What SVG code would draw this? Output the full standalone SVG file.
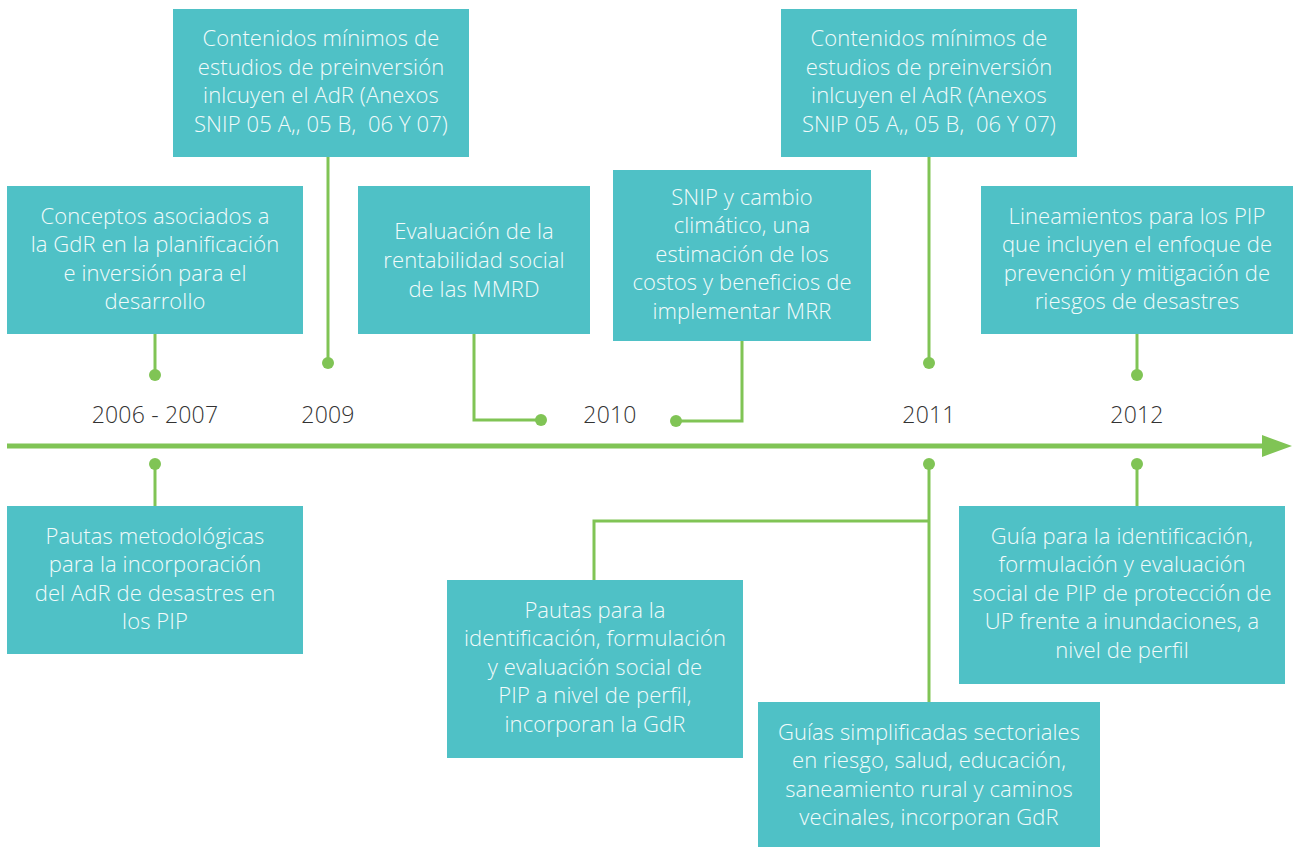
<svg xmlns="http://www.w3.org/2000/svg" width="1293" height="847" viewBox="0 0 1293 847">
<style>
.box{fill:#4fc1c6}
.t{font-family:"Open Sans","Liberation Sans",sans-serif;font-weight:300;font-size:22px;letter-spacing:0.1px;fill:#f2fbfb;text-anchor:middle}
.y{font-family:"Open Sans","Liberation Sans",sans-serif;font-weight:300;font-size:23px;letter-spacing:0.2px;fill:#333333;text-anchor:middle}
.c{fill:none;stroke:#80c455;stroke-width:3}
.d{fill:#80c455}
</style>
<rect width="1293" height="847" fill="#ffffff"/>
<g id="connectors">
<line x1="7" y1="446" x2="1264" y2="446" stroke="#80c455" stroke-width="5"/>
<polygon points="1262,435 1292,446 1262,457" class="d"/>
<polyline class="c" points="155,334 155,375"/>
<circle class="d" cx="155" cy="375" r="6"/>
<polyline class="c" points="155,464 155,506"/>
<circle class="d" cx="155" cy="464" r="6"/>
<polyline class="c" points="328,157 328,363"/>
<circle class="d" cx="328" cy="363" r="6"/>
<polyline class="c" points="474,334 474,420 541,420"/>
<circle class="d" cx="541" cy="420" r="6"/>
<polyline class="c" points="676,421 742,421 742,341"/>
<circle class="d" cx="676" cy="421" r="6"/>
<polyline class="c" points="929,157 929,363"/>
<circle class="d" cx="929" cy="363" r="6"/>
<polyline class="c" points="1137,334 1137,375"/>
<circle class="d" cx="1137" cy="375" r="6"/>
<polyline class="c" points="929,464 929,702"/>
<polyline class="c" points="929,521 594,521 594,580"/>
<circle class="d" cx="929" cy="464" r="6"/>
<polyline class="c" points="1137,464 1137,506"/>
<circle class="d" cx="1137" cy="464" r="6"/>
</g>
<g id="years">
<text class="y" x="155" y="423">2006 - 2007</text>
<text class="y" x="328" y="423">2009</text>
<text class="y" x="610" y="423">2010</text>
<text class="y" x="929" y="423">2011</text>
<text class="y" x="1137" y="423">2012</text>
</g>
<g id="n1">
<rect class="box" x="7" y="186" width="296" height="148"/>
<text class="t" x="155" y="224">Conceptos asociados a</text>
<text class="t" x="155" y="252">la GdR en la planificación</text>
<text class="t" x="155" y="281">e inversión para el</text>
<text class="t" x="155" y="309">desarrollo</text>
</g>
<g id="n2">
<rect class="box" x="173" y="9" width="296" height="148"/>
<text class="t" x="321" y="46">Contenidos mínimos de</text>
<text class="t" x="321" y="75">estudios de preinversión</text>
<text class="t" x="321" y="103">inlcuyen el AdR (Anexos</text>
<text class="t" x="321" y="132" xml:space="preserve">SNIP 05 A,, 05 B,  06 Y 07)</text>
</g>
<g id="n3">
<rect class="box" x="358" y="186" width="232" height="148"/>
<text class="t" x="474" y="239">Evaluación de la</text>
<text class="t" x="474" y="268">rentabilidad social</text>
<text class="t" x="474" y="297">de las MMRD</text>
</g>
<g id="n4">
<rect class="box" x="613" y="170" width="258" height="171"/>
<text class="t" x="742" y="205">SNIP y cambio</text>
<text class="t" x="742" y="233">climático, una</text>
<text class="t" x="742" y="262">estimación de los</text>
<text class="t" x="742" y="290">costos y beneficios de</text>
<text class="t" x="742" y="319">implementar MRR</text>
</g>
<g id="n5">
<rect class="box" x="781" y="9" width="296" height="148"/>
<text class="t" x="929" y="46">Contenidos mínimos de</text>
<text class="t" x="929" y="75">estudios de preinversión</text>
<text class="t" x="929" y="103">inlcuyen el AdR (Anexos</text>
<text class="t" x="929" y="132" xml:space="preserve">SNIP 05 A,, 05 B,  06 Y 07)</text>
</g>
<g id="n6">
<rect class="box" x="981" y="186" width="312" height="148"/>
<text class="t" x="1137" y="224">Lineamientos para los PIP</text>
<text class="t" x="1137" y="252">que incluyen el enfoque de</text>
<text class="t" x="1137" y="281">prevención y mitigación de</text>
<text class="t" x="1137" y="309">riesgos de desastres</text>
</g>
<g id="n7">
<rect class="box" x="7" y="506" width="296" height="148"/>
<text class="t" x="155" y="544">Pautas metodológicas</text>
<text class="t" x="155" y="572">para la incorporación</text>
<text class="t" x="155" y="601">del AdR de desastres en</text>
<text class="t" x="155" y="629">los PIP</text>
</g>
<g id="n8">
<rect class="box" x="447" y="580" width="296" height="178"/>
<text class="t" x="595" y="618">Pautas para la</text>
<text class="t" x="595" y="646">identificación, formulación</text>
<text class="t" x="595" y="675">y evaluación social de</text>
<text class="t" x="595" y="703">PIP a nivel de perfil,</text>
<text class="t" x="595" y="732">incorporan la GdR</text>
</g>
<g id="n9">
<rect class="box" x="758" y="702" width="342" height="145"/>
<text class="t" x="929" y="740">Guías simplificadas sectoriales</text>
<text class="t" x="929" y="768">en riesgo, salud, educación,</text>
<text class="t" x="929" y="797">saneamiento rural y caminos</text>
<text class="t" x="929" y="825">vecinales, incorporan GdR</text>
</g>
<g id="n10">
<rect class="box" x="959" y="506" width="326" height="178"/>
<text class="t" x="1122" y="544">Guía para la identificación,</text>
<text class="t" x="1122" y="572">formulación y evaluación</text>
<text class="t" x="1122" y="601">social de PIP de protección de</text>
<text class="t" x="1122" y="629">UP frente a inundaciones, a</text>
<text class="t" x="1122" y="658">nivel de perfil</text>
</g>
</svg>
